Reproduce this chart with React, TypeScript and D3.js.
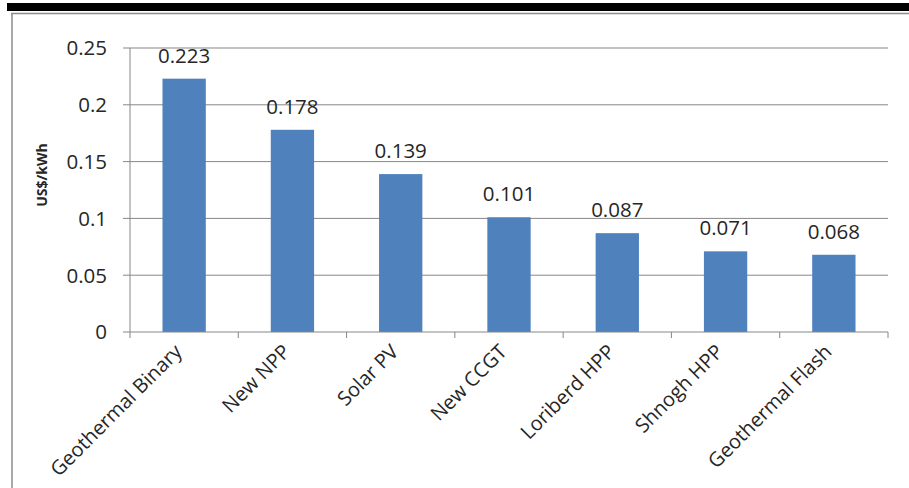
import React from "react";
import * as d3 from "d3";

const categories = [
  "Geothermal Binary",
  "New NPP",
  "Solar PV",
  "New CCGT",
  "Loriberd HPP",
  "Shnogh HPP",
  "Geothermal Flash",
];
const costs = [0.223, 0.178, 0.139, 0.101, 0.087, 0.071, 0.068];
const yTicks = [0, 0.05, 0.1, 0.15, 0.2, 0.25];
const yTickLabels = ["0", "0.05", "0.1", "0.15", "0.2", "0.25"];
const yTitle = "US$/kWh";

const W = 909;
const H = 488;
const plot = { left: 130, right: 888, top: 48, bottom: 332 };
const FONT = "'Open Sans', 'Noto Sans', sans-serif";
const TEXT = "#262626";
const GRID = "#878787";
const BAR = "#4F81BD";

export default function App() {
  const x = d3
    .scaleBand<string>()
    .domain(categories)
    .range([plot.left, plot.right])
    .paddingInner(0.6)
    .paddingOuter(0.3);
  const band = d3
    .scaleBand<string>()
    .domain(categories)
    .range([plot.left, plot.right]);
  const y = d3.scaleLinear().domain([0, 0.25]).range([plot.bottom, plot.top]);

  const boundaries = categories.map((c) => band(c) as number).concat([plot.right]);

  return (
    <svg
      width={W}
      height={H}
      style={{ position: "absolute", left: 0, top: 0, background: "#fff" }}
      fontFamily={FONT}
    >
      <rect x={0} y={0} width={W} height={H} fill="#fff" />
      {/* page rule and chart frame */}
      <rect x={7} y={3} width={W - 7} height={8} fill="#000" />
      <line x1={11} x2={W} y1={13.5} y2={13.5} stroke="#8c8c8c" strokeWidth={1.5} />
      <line x1={12} x2={12} y1={13} y2={H} stroke="#8c8c8c" strokeWidth={1.5} />

      {/* gridlines and y ticks */}
      {yTicks.map((t, i) => (
        <g key={i}>
          <line
            x1={plot.left - 7}
            x2={i === 0 ? plot.left : plot.right}
            y1={y(t)}
            y2={y(t)}
            stroke={GRID}
            strokeWidth={1}
          />
          <text
            x={107}
            y={y(t)}
            dy="0.36em"
            textAnchor="end"
            fontSize={20.5}
            fill={TEXT}
          >
            {yTickLabels[i]}
          </text>
        </g>
      ))}

      {/* bars */}
      {categories.map((c, i) => (
        <rect
          key={c}
          x={x(c)}
          y={y(costs[i])}
          width={x.bandwidth()}
          height={y(0) - y(costs[i])}
          fill={BAR}
        />
      ))}

      {/* axes */}
      <line x1={plot.left} x2={plot.left} y1={plot.top} y2={plot.bottom} stroke={GRID} />
      <line x1={plot.left} x2={plot.right} y1={plot.bottom} y2={plot.bottom} stroke={GRID} />
      {boundaries.map((b, i) => (
        <line key={i} x1={b} x2={b} y1={plot.bottom} y2={plot.bottom + 6} stroke={GRID} />
      ))}

      {/* value labels */}
      {categories.map((c, i) => (
        <text
          key={c}
          x={(x(c) as number) + x.bandwidth() / 2}
          y={y(costs[i]) - 16}
          textAnchor="middle"
          fontSize={20.5}
          fill={TEXT}
        >
          {costs[i].toFixed(3)}
        </text>
      ))}

      {/* category labels */}
      {categories.map((c) => {
        const cx = (band(c) as number) + band.bandwidth() / 2;
        return (
          <text
            key={c}
            transform={`translate(${cx - 1},${plot.bottom + 21}) rotate(-45)`}
            textAnchor="end"
            fontSize={20}
            fill={TEXT}
          >
            {c}
          </text>
        );
      })}

      {/* y axis title */}
      <text
        transform={`translate(46.5,175) rotate(-90)`}
        textAnchor="middle"
        fontSize={14}
        fontWeight="bold"
        fill={TEXT}
      >
        {yTitle}
      </text>
    </svg>
  );
}
